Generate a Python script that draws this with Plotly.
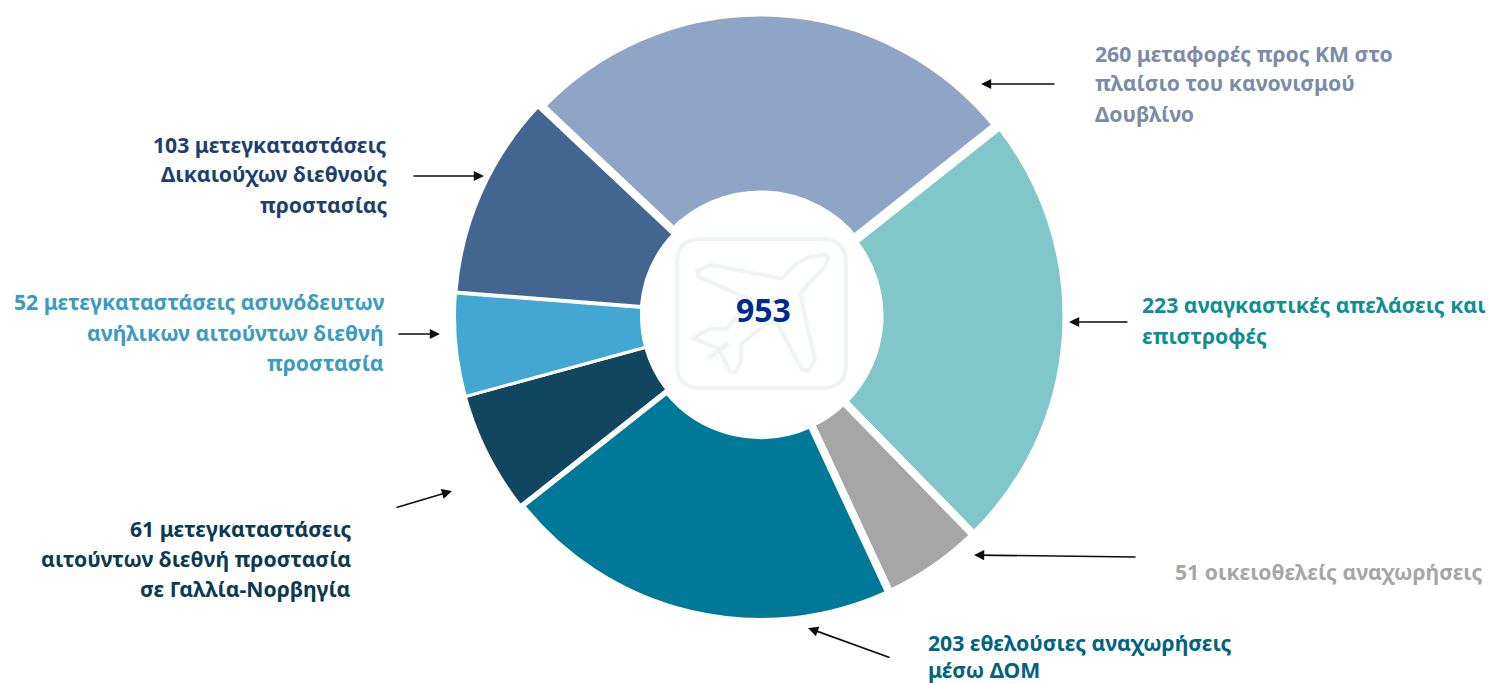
import plotly.graph_objects as go

W, H = 1488, 683

categories = [
    "μεταφορές προς ΚΜ στο πλαίσιο του κανονισμού Δουβλίνο",
    "αναγκαστικές απελάσεις και επιστροφές",
    "οικειοθελείς αναχωρήσεις",
    "εθελούσιες αναχωρήσεις μέσω ΔΟΜ",
    "μετεγκαταστάσεις αιτούντων διεθνή προστασία σε Γαλλία-Νορβηγία",
    "μετεγκαταστάσεις ασυνόδευτων ανήλικων αιτούντων διεθνή προστασία",
    "μετεγκαταστάσεις Δικαιούχων διεθνούς προστασίας",
]
values = [260, 223, 51, 203, 61, 52, 103]
total_label = "953"
slice_colors = ["#8fa5c6", "#81c7c9", "#a6a6a6", "#007897", "#11465f", "#43a7d3", "#426690"]
gap_widths = [13, 8, 8, 8, 3, 3, 4]
FONT = "Noto Sans"
SIZE = 21.2


def px(x):
    return x / W


def py(y):
    return 1 - y / H


cx, cy, R = 760.5, 316, 306
fig = go.Figure(go.Pie(
    labels=categories, values=values, sort=False, direction="clockwise", rotation=-46.7,
    hole=119 / R, textinfo="none", hoverinfo="label+value", showlegend=False,
    marker=dict(colors=slice_colors, line=dict(color="white", width=gap_widths)),
    domain=dict(x=[px(cx - R), px(cx + R)], y=[py(cy + R), py(cy - R)]),
))

labels = [
    (["260 μεταφορές προς ΚΜ στο", "πλαίσιο του κανονισμού", "Δουβλίνο"], "left", 1093, [53, 83, 113], "#7b8ba8"),
    (["223 αναγκαστικές απελάσεις και", "επιστροφές"], "left", 1140, [305, 335], "#0f8f8f"),
    (["51 οικειοθελείς αναχωρήσεις"], "right", 1484, [571], "#a6a6a6"),
    (["203 εθελούσιες αναχωρήσεις", "μέσω ΔΟΜ"], "left", 926, [642, 669], "#00637f"),
    (["61 μετεγκαταστάσεις", "αιτούντων διεθνή προστασία", "σε Γαλλία-Νορβηγία"], "right", 353, [528, 558, 588], "#0c3a50"),
    (["52 μετεγκαταστάσεις ασυνόδευτων", "ανήλικων αιτούντων διεθνή", "προστασία"], "right", 386, [302, 332, 362], "#3a9bc4"),
    (["103 μετεγκαταστάσεις", "Δικαιούχων διεθνούς", "προστασίας"], "right", 389, [144, 174, 204], "#1f3f6e"),
]
for lines, side, x, ys, color in labels:
    for line, y in zip(lines, ys):
        fig.add_annotation(text=f"<b>{line}</b>", x=px(x), y=py(y), xref="paper", yref="paper",
                           xanchor=side, yanchor="middle", showarrow=False,
                           font=dict(family=FONT, size=SIZE, color=color))

fig.add_annotation(text=f"<b>{total_label}</b>", x=px(763), y=py(310), xref="paper", yref="paper",
                   showarrow=False, font=dict(family=FONT, size=32, color="#002a92"))

arrows = [
    (1056, 84, 981, 84), (1129, 322, 1069, 322), (1137, 557, 974, 555), (891, 658, 808, 628),
    (395, 508, 452, 491), (397, 334, 440, 334), (412, 176, 484, 176),
]
for x0, y0, x1, y1 in arrows:
    fig.add_annotation(x=px(x1), y=py(y1), xref="paper", yref="paper", ax=x0 - x1, ay=y0 - y1,
                       axref="pixel", ayref="pixel", text="", showarrow=True, arrowhead=2,
                       arrowsize=1.2, arrowwidth=1.7, arrowcolor="#0d0d14")


def zoom_path(points, close=True):
    out = []
    for i, (zx, zy) in enumerate(points):
        out.append(("M" if i == 0 else "L") + f"{px(640 + zx / 3):.5f},{py(200 + zy / 3):.5f}")
    return " ".join(out) + (" Z" if close else "")


def round_rect(x0, y0, x1, y1, r):
    P = lambda x, y: f"{px(x):.5f},{py(y):.5f}"
    return (f"M{P(x0 + r, y0)} L{P(x1 - r, y0)} Q{P(x1, y0)} {P(x1, y0 + r)} L{P(x1, y1 - r)} "
            f"Q{P(x1, y1)} {P(x1 - r, y1)} L{P(x0 + r, y1)} Q{P(x0, y1)} {P(x0, y1 - r)} "
            f"L{P(x0, y0 + r)} Q{P(x0, y0)} {P(x0 + r, y0)} Z")


plane = [(558, 163), (505, 172), (468, 192), (425, 236), (212, 194), (172, 212), (175, 230), (330, 298),
         (262, 385), (205, 388), (160, 415), (235, 445), (272, 518), (285, 518), (303, 485), (303, 432),
         (380, 370), (412, 370), (485, 508), (505, 512), (525, 480), (480, 280), (555, 200), (565, 172)]
icon = "#eff4f6"
shapes = [
    dict(type="path", xref="paper", yref="paper", path=round_rect(677, 239, 846, 388, 24),
         line=dict(color=icon, width=4), layer="below"),
    dict(type="path", xref="paper", yref="paper", path=zoom_path(plane), line=dict(color=icon, width=4), layer="below"),
    dict(type="path", xref="paper", yref="paper", path=zoom_path([(205, 475), (265, 430)], False),
         line=dict(color=icon, width=4), layer="below"),
]
fig.update_layout(width=W, height=H, margin=dict(l=0, r=0, t=0, b=0), paper_bgcolor="white",
                  plot_bgcolor="white", shapes=shapes, font=dict(family=FONT))
fig.write_html("out.html", config={"displayModeBar": False},
               post_script="document.body.style.margin='0';document.body.style.overflow='hidden';")
